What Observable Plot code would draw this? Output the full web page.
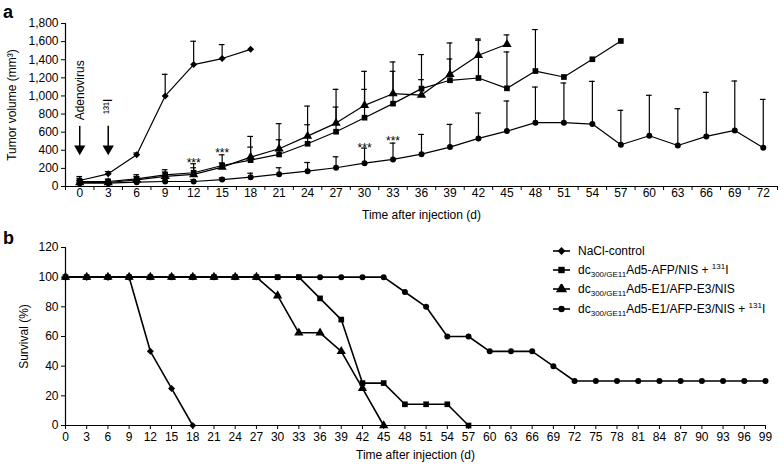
<!DOCTYPE html>
<html><head><meta charset="utf-8">
<script src="https://cdn.jsdelivr.net/npm/d3@7"></script>
<script src="https://cdn.jsdelivr.net/npm/@observablehq/plot@0.6"></script>
<style>
body{margin:0;background:#fff;font-family:"Liberation Sans",Arial,sans-serif;color:#000;}
#wrap{position:relative;width:784px;height:466px;overflow:hidden;}
.panel{position:absolute;left:0;}
.lab{position:absolute;font-weight:bold;font-size:18px;line-height:18px;}
#legend{position:absolute;left:553px;top:241px;font-size:12px;}
#legend .row{height:19.3px;display:flex;align-items:center;white-space:nowrap;}
#legend svg{margin-right:8px;}
#legend sub{font-size:8px;vertical-align:-3px;line-height:0;}
#legend sup{font-size:8px;vertical-align:5px;line-height:0;}
</style></head>
<body>
<div id="wrap">
  <div id="pa" class="panel" style="top:0"></div>
  <div id="pb" class="panel" style="top:228px"></div>
  <div class="lab" style="left:3px;top:3px">a</div>
  <div class="lab" style="left:3px;top:229px">b</div>
  <div id="legend"></div>
</div>
<script>
// ---------- Panel a data (tumor volume, mean and upper SD) ----------
const seriesNames = [
  "NaCl-control",
  "dc300/GE11Ad5-AFP/NIS + 131I",
  "dc300/GE11Ad5-E1/AFP-E3/NIS",
  "dc300/GE11Ad5-E1/AFP-E3/NIS + 131I"
];
const seriesSymbols = ["diamond2", "square", "triangle", "circle"];
const seriesR = [3.2, 3.3, 3.8, 2.9];

const daysA = [0,3,6,9,12,15,18,21,24,27,30,33,36,39,42,45,48,51,54,57,60,63,66,69,72];
const yTicksA = [0,200,400,600,800,1000,1200,1400,1600,1800];

const naclMean = [66,140,350,1000,1346,1413,1515];
const naclSD   = [44,25,20,239,258,154,0];

const afpMean = [55,55,85,129,152,232,291,354,472,605,760,915,1081,1173,1198,1084,1275,1209,1405,1607];
const afpSD   = [35,25,45,56,99,118,144,162,210,272,313,357,99,235,417,402,458,0,0,0];

const e1Mean = [44,44,74,111,133,214,324,417,556,700,896,1025,1010,1239,1449,1571];
const e1SD   = [26,16,36,49,74,46,229,277,332,373,376,350,447,346,180,103];

const e1iMean = [37,37,48,55,55,77,103,136,169,207,258,299,357,435,531,612,705,705,689,461,561,453,553,619,428];
const e1iSD   = [13,13,12,15,20,18,44,71,96,121,166,180,218,251,280,332,393,438,472,380,446,406,487,546,534];

// significance markers
const starDays = [12,15,30,33];
const starVals = [300,410,470,545];

// injection arrows and labels
const arrowDays = [0,3];
const arrowTop = [664,664];
const arrowTip = [376,376];
const arrowLabels = ["Adenovirus","\u00b9\u00b3\u00b9I"];
const arrowLabelVals = [1062,885];

// ---------- Panel b data (survival %) ----------
const daysB = [0,3,6,9,12,15,18,21,24,27,30,33,36,39,42,45,48,51,54,57,60,63,66,69,72,75,78,81,84,87,90,93,96,99];
const yTicksB = [0,20,40,60,80,100,120];
const naclSurv = [100,100,100,100,50,25,0];
const afpSurv  = [100,100,100,100,100,100,100,100,100,100,100,100,85.7,71.4,28.6,28.6,14.3,14.3,14.3,0];
const e1Surv   = [100,100,100,100,100,100,100,100,100,100,87.5,62.5,62.5,50,25,0];
const e1iSurv  = [100,100,100,100,100,100,100,100,100,100,100,100,100,100,100,100,90,80,60,60,50,50,50,40,30,30,30,30,30,30,30,30,30,30];

// ---------- build tables ----------
const meansA = [naclMean, afpMean, e1Mean, e1iMean];
const sdsA = [naclSD, afpSD, e1SD, e1iSD];
const rowsA = [];
meansA.forEach((m, s) => m.forEach((v, i) => rowsA.push({
  series: seriesNames[s], symbol: seriesSymbols[s], r: seriesR[s], order: s,
  day: daysA[i], mean: v, top: v + sdsA[s][i], sd: sdsA[s][i]
})));
const errA = rowsA.filter(d => d.sd > 0);

const survs = [naclSurv, afpSurv, e1Surv, e1iSurv];
const rowsB = [];
survs.forEach((m, s) => m.forEach((v, i) => rowsB.push({
  series: seriesNames[s], symbol: seriesSymbols[s], r: seriesR[s], order: s,
  day: daysB[i], surv: v
})));
const dotOrder = [3, 2, 0, 1];
const rowsBdots = dotOrder.flatMap(s => rowsB.filter(d => d.order === s));
const rowsAdots = dotOrder.flatMap(s => rowsA.filter(d => d.order === s));

const boundaryTicks = daysA.map(d => d - 1.5).concat([daysA[daysA.length - 1] + 1.5]);
const stars = starDays.map((d, i) => ({day: d, v: starVals[i]}));
const arrows = arrowDays.map((d, i) => ({day: d, y1: arrowTop[i], y2: arrowTip[i], label: arrowLabels[i], ly: arrowLabelVals[i]}));

const font = "Liberation Sans, Arial, Helvetica, sans-serif";
const symScale = {type: "identity"};

// ---------- Panel a ----------
const plotA = Plot.plot({
  width: 784, height: 228,
  marginLeft: 65, marginRight: 7, marginTop: 23, marginBottom: 42,
  style: {fontFamily: font, fontSize: "12px", color: "#000", background: "#fff", overflow: "visible"},
  x: {domain: [boundaryTicks[0], boundaryTicks[boundaryTicks.length - 1]]},
  y: {domain: [0, 1800]},
  symbol: symScale,
  marks: [
    Plot.axisY({ticks: yTicksA, tickSize: 4, tickPadding: 3, tickFormat: d3.format(","),
      label: "Tumor volume (mm\u00b3)", labelAnchor: "center", labelArrow: "none", labelOffset: 58, fontSize: 12}),
    Plot.axisX({ticks: boundaryTicks, tickSize: 4, tickFormat: () => "", label: null}),
    Plot.axisX({ticks: daysA, tickSize: 0, tickPadding: 2, label: null}),
    Plot.ruleY([0], {strokeWidth: 1.2}),
    Plot.ruleX([boundaryTicks[0]], {y1: 0, y2: 1800, strokeWidth: 1.2}),
    Plot.text(["Time after injection (d)"], {frameAnchor: "bottom", dy: 32, fontSize: 12}),
    // error bars
    Plot.ruleX(errA, {x: "day", y1: "mean", y2: "top", stroke: "#000", strokeWidth: 1.2}),
    Plot.ruleY(errA, {y: "top", x1: d => d.day - 0.3, x2: d => d.day + 0.3, stroke: "#000", strokeWidth: 1.2}),
    // lines
    Plot.line(rowsA, {x: "day", y: "mean", z: "series", stroke: "#000", strokeWidth: 1.2}),
    Plot.dot(rowsAdots, {x: "day", y: "mean", symbol: "symbol", r: "r", fill: "#000", stroke: "none"}),
    // annotations
    Plot.text(stars, {x: "day", y: "v", text: () => "***", fontSize: 12, dy: 4}),
    Plot.ruleX(arrows, {x: "day", y1: "y1", y2: d => d.y2 + 60, stroke: "#000", strokeWidth: 1.5}),
    Plot.dot(arrows, {x: "day", y: d => d.y2 + 40, symbol: "triangle", rotate: 180, r: 4.2, fill: "#000", stroke: "none"}),
    Plot.text(arrows, {x: "day", y: "ly", text: "label", rotate: -90, fontSize: 12})
  ]
});
document.getElementById("pa").append(plotA);

// ---------- Panel b ----------
const plotB = Plot.plot({
  width: 784, height: 238,
  marginLeft: 65, marginRight: 19, marginTop: 19, marginBottom: 41,
  style: {fontFamily: font, fontSize: "12px", color: "#000", background: "#fff", overflow: "visible"},
  x: {domain: [0, 99]},
  y: {domain: [0, 120]},
  symbol: symScale,
  marks: [
    Plot.axisY({ticks: yTicksB, tickSize: 4, tickPadding: 3,
      label: "Survival (%)", labelAnchor: "center", labelArrow: "none", labelOffset: 46, fontSize: 12}),
    Plot.axisX({ticks: daysB, tickSize: 4, tickPadding: 3, label: null}),
    Plot.ruleY([0], {strokeWidth: 1.2}),
    Plot.ruleX([0], {y1: 0, y2: 120, strokeWidth: 1.2}),
    Plot.text(["Time after injection (d)"], {frameAnchor: "bottom", dy: 33, fontSize: 12}),
    Plot.line(rowsB, {x: "day", y: "surv", z: "series", stroke: "#000", strokeWidth: 1.6}),
    Plot.dot(rowsBdots, {x: "day", y: "surv", symbol: "symbol", r: "r", fill: "#000", stroke: "none"})
  ]
});
document.getElementById("pb").append(plotB);

// ---------- Legend ----------
const legendHTML = [
  "NaCl-control",
  "dc<sub>300/GE11</sub>Ad5-AFP/NIS + <sup>131</sup>I",
  "dc<sub>300/GE11</sub>Ad5-E1/AFP-E3/NIS",
  "dc<sub>300/GE11</sub>Ad5-E1/AFP-E3/NIS + <sup>131</sup>I"
];
const legend = d3.select("#legend");
legendHTML.forEach((h, i) => {
  const row = legend.append("div").attr("class", "row");
  const svg = row.append("svg").attr("width", 17).attr("height", 10);
  svg.append("line").attr("x1", 0).attr("x2", 17).attr("y1", 5).attr("y2", 5).attr("stroke", "#000").attr("stroke-width", 1.6);
  const sym = {diamond2: d3.symbolDiamond2, square: d3.symbolSquare, triangle: d3.symbolTriangle, circle: d3.symbolCircle}[seriesSymbols[i]];
  svg.append("path").attr("transform", "translate(8.5,5)").attr("d", d3.symbol(sym, Math.PI * seriesR[i] * seriesR[i] * 1.2)()).attr("fill", "#000");
  row.append("span").html(h);
});
</script>
</body></html>
